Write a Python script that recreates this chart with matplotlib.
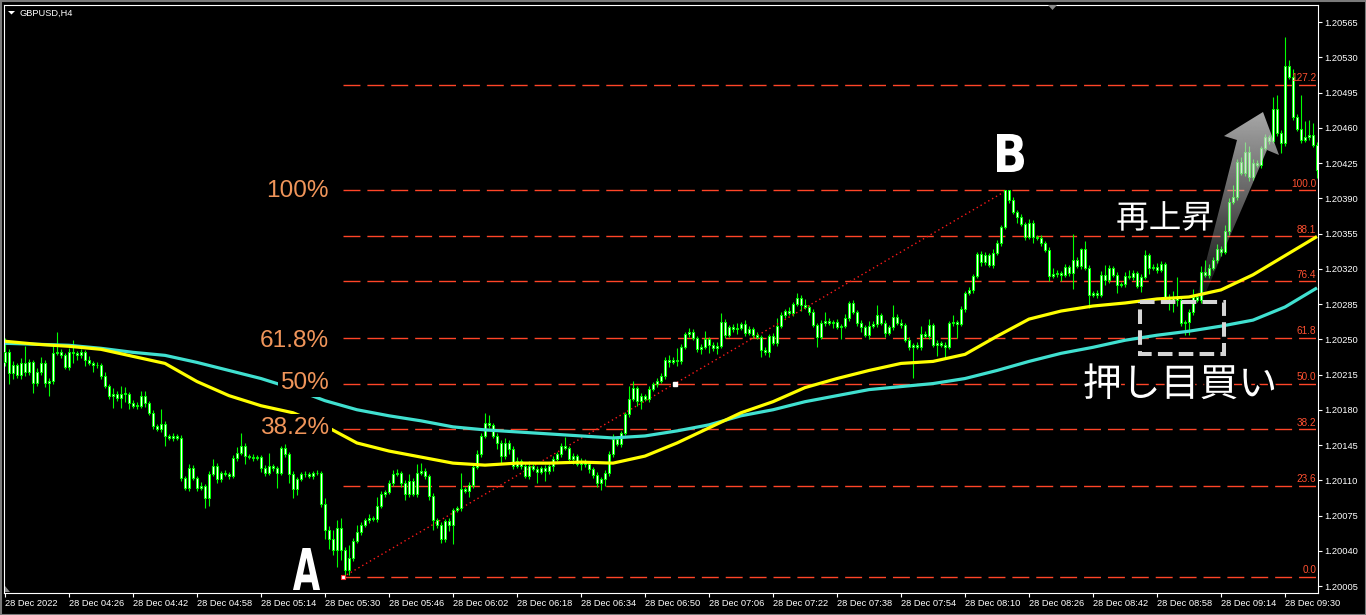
import numpy as np
import matplotlib
matplotlib.use("Agg")
import matplotlib.pyplot as plt
import matplotlib.patheffects as pe
from matplotlib.patches import Rectangle, Polygon, PathPatch
from matplotlib.textpath import TextPath
from matplotlib.font_manager import FontProperties
from matplotlib.transforms import Affine2D, offset_copy

plt.rcParams['font.family'] = ['Liberation Sans', 'DejaVu Sans']
plt.rcParams['lines.scale_dashes'] = False

# ---------------- data: prices in points above 1.20000 ----------------
BASE = 1.2
first_open = 227
close_pts = [
    237, 216, 224, 215, 226, 217, 227, 207, 217, 226, 207, 209, 236, 237, 234, 222, 237, 236, 234, 237,
    229, 226, 224, 224, 214, 204, 194, 196, 192, 196, 196, 187, 184, 184, 194, 187, 177, 164, 161, 166,
    154, 152, 154, 152, 112, 102, 122, 112, 102, 104, 92, 116, 124, 111, 117, 116, 114, 132, 137, 144,
    134, 133, 132, 133, 122, 117, 124, 122, 117, 142, 136, 116, 101, 111, 116, 116, 114, 117, 117, 86,
    61, 52, 41, 63, 41, 21, 33, 50, 59, 66, 71, 73, 72, 84, 96, 98, 107, 116, 117, 107,
    96, 109, 96, 117, 119, 114, 94, 71, 66, 52, 70, 66, 80, 82, 101, 99, 105, 123, 136, 154,
    167, 165, 154, 147, 134, 147, 141, 124, 129, 124, 114, 124, 121, 118, 122, 119, 124, 131, 136, 144,
    142, 131, 134, 126, 129, 126, 121, 115, 107, 111, 117, 136, 151, 146, 157, 176, 191, 202, 189, 194,
    191, 201, 206, 209, 214, 229, 227, 229, 228, 242, 255, 257, 251, 240, 242, 250, 244, 241, 243, 267,
    254, 262, 260, 261, 265, 256, 260, 254, 252, 239, 237, 253, 246, 263, 274, 278, 276, 285, 291, 284,
    282, 277, 264, 252, 266, 268, 266, 267, 262, 263, 271, 286, 277, 266, 262, 254, 263, 265, 274, 266,
    256, 262, 272, 266, 264, 249, 242, 244, 242, 255, 253, 264, 244, 246, 244, 242, 266, 267, 265, 280,
    296, 299, 313, 335, 327, 334, 324, 336, 346, 361, 398, 388, 376, 371, 364, 352, 365, 352, 351, 346,
    339, 313, 315, 316, 314, 322, 316, 329, 323, 340, 321, 294, 296, 294, 314, 309, 321, 314, 304, 305,
    313, 312, 316, 303, 312, 334, 321, 322, 319, 325, 291, 287, 292, 289, 266, 267, 277, 292, 289, 317,
    314, 321, 329, 340, 337, 357, 386, 391, 426, 415, 436, 411, 425, 423, 440, 451, 447, 479, 455, 445,
    521, 510, 471, 459, 448, 451, 453, 443, 418,
]
up_wick = [
    14, 3, 4, 2, 5, 17, 3, 2, 4, 6, 3, 3, 8, 20, 3, 2, 4, 12, 2, 3,
    2, 4, 2, 3, 2, 3, 2, 6, 3, 8, 7, 2, 3, 4, 5, 5, 2, 3, 2, 15,
    3, 2, 3, 2, 3, 2, 4, 3, 2, 4, 2, 3, 7, 3, 2, 3, 2, 3, 6, 13,
    3, 2, 3, 2, 2, 3, 13, 2, 2, 2, 4, 2, 3, 2, 2, 3, 2, 2, 3, 2,
    6, 4, 9, 8, 10, 3, 13, 3, 7, 3, 2, 3, 2, 9, 3, 2, 3, 4, 4, 2,
    3, 7, 3, 9, 8, 3, 2, 3, 2, 3, 2, 3, 2, 2, 16, 2, 3, 2, 4, 3,
    10, 8, 2, 3, 3, 5, 3, 3, 4, 2, 3, 5, 2, 3, 2, 3, 2, 3, 2, 3,
    9, 2, 3, 2, 3, 2, 3, 2, 3, 2, 3, 3, 5, 3, 2, 2, 13, 7, 2, 3,
    2, 3, 2, 3, 2, 3, 5, 3, 12, 3, 2, 4, 3, 2, 3, 8, 2, 3, 4, 9,
    3, 2, 3, 5, 2, 4, 3, 2, 3, 2, 3, 2, 3, 8, 3, 2, 4, 2, 5, 3,
    6, 2, 3, 2, 3, 9, 3, 2, 3, 2, 4, 2, 3, 2, 3, 2, 5, 3, 10, 2,
    3, 2, 12, 3, 4, 2, 3, 2, 3, 8, 3, 6, 2, 3, 2, 3, 2, 7, 2, 3,
    2, 3, 2, 2, 3, 3, 2, 4, 3, 2, 0, 0, 3, 2, 3, 2, 4, 3, 2, 3,
    2, 3, 6, 3, 2, 3, 2, 26, 3, 1, 8, 3, 2, 3, 4, 10, 3, 2, 3, 2,
    4, 6, 3, 2, 3, 5, 2, 3, 4, 3, 2, 4, 6, 20, 3, 2, 3, 8, 3, 6,
    12, 4, 3, 5, 3, 6, 4, 12, 3, 5, 10, 6, 4, 3, 2, 3, 2, 12, 14, 3,
    29, 6, 8, 3, 34, 16, 15, 12, 3,
]
down_wick = [
    4, 10, 5, 3, 4, 3, 2, 10, 3, 2, 4, 13, 3, 2, 3, 2, 3, 10, 5, 3,
    6, 2, 7, 3, 3, 2, 3, 12, 3, 10, 8, 6, 2, 3, 2, 4, 2, 3, 2, 3,
    10, 2, 3, 2, 3, 2, 3, 2, 3, 2, 10, 8, 2, 4, 3, 2, 3, 2, 3, 2,
    8, 2, 3, 2, 4, 3, 2, 3, 15, 2, 3, 9, 9, 6, 2, 3, 2, 3, 2, 3,
    9, 10, 5, 17, 10, 7, 5, 3, 2, 3, 2, 3, 2, 3, 2, 3, 2, 3, 2, 4,
    6, 3, 2, 3, 2, 3, 4, 10, 3, 4, 3, 6, 19, 2, 3, 2, 6, 3, 2, 3,
    2, 3, 2, 6, 8, 3, 5, 3, 2, 3, 2, 3, 2, 11, 2, 10, 3, 5, 2, 3,
    2, 3, 5, 2, 6, 3, 4, 3, 4, 7, 7, 3, 3, 2, 3, 2, 3, 2, 5, 8,
    2, 3, 2, 3, 2, 3, 5, 2, 5, 3, 2, 3, 2, 3, 5, 2, 8, 3, 6, 2,
    3, 2, 3, 5, 2, 3, 2, 3, 2, 7, 3, 5, 2, 3, 2, 3, 2, 3, 2, 6,
    2, 3, 2, 10, 2, 3, 2, 5, 2, 12, 2, 3, 2, 3, 5, 2, 4, 2, 3, 2,
    4, 2, 3, 2, 3, 2, 3, 30, 2, 3, 2, 3, 2, 11, 2, 11, 2, 3, 14, 2,
    3, 2, 3, 2, 4, 3, 2, 3, 2, 3, 2, 3, 2, 6, 2, 3, 2, 6, 2, 3,
    2, 5, 2, 3, 6, 2, 3, 16, 2, 3, 2, 13, 2, 3, 2, 5, 3, 2, 8, 2,
    3, 2, 3, 2, 6, 2, 6, 2, 3, 2, 3, 8, 10, 6, 3, 12, 13, 3, 2, 3,
    2, 3, 2, 3, 4, 2, 3, 2, 3, 2, 3, 4, 3, 2, 3, 2, 3, 2, 3, 10,
    3, 2, 3, 2, 3, 2, 3, 2, 8,
]

# moving averages, one value every 8 candles
ma_step = 8
ma_fast = [248, 245, 243, 240, 233, 226, 208, 194, 184, 177, 164, 147, 139, 133, 127, 125, 127, 127, 128, 127,
           134, 147, 162, 177, 188, 202, 211, 219, 226, 228, 235, 253, 270, 278, 283, 286, 290, 292, 299, 314,
           333, 352]
ma_slow = [246, 245, 244, 241, 237, 234, 227, 219, 211, 201, 189, 180, 174, 169, 163, 160, 158, 156, 154, 152,
           154, 159, 165, 174, 180, 188, 194, 200, 203, 206, 211, 219, 228, 236, 242, 249, 254, 258, 263, 269,
           282, 301]

# fibonacci from A to B
fib_a, fib_b = 1.20014, 1.20398
fib_a_pos, fib_b_pos = 84.5, 250.5
fib_levels = [0.0, 23.6, 38.2, 50.0, 61.8, 76.4, 88.1, 100.0, 127.2]

price_ticks = [1.20005, 1.20040, 1.20075, 1.20110, 1.20145, 1.20180, 1.20215, 1.20250, 1.20285,
               1.20320, 1.20355, 1.20390, 1.20425, 1.20460, 1.20495, 1.20530, 1.20565]
time_ticks = list(range(0, 321, 16))
time_labels = ['28 Dec 2022', '28 Dec 04:26', '28 Dec 04:42', '28 Dec 04:58', '28 Dec 05:14',
               '28 Dec 05:30', '28 Dec 05:46', '28 Dec 06:02', '28 Dec 06:18', '28 Dec 06:34',
               '28 Dec 06:50', '28 Dec 07:06', '28 Dec 07:22', '28 Dec 07:38', '28 Dec 07:54',
               '28 Dec 08:10', '28 Dec 08:26', '28 Dec 08:42', '28 Dec 08:58', '28 Dec 09:14',
               '28 Dec 09:30']

# ---------------- figure ----------------
W, H = 1366, 615
fig = plt.figure(figsize=(W / 100, H / 100), dpi=100, facecolor='black')
L, R, T, B = 4, 1318, 5, 593
ax = fig.add_axes([L / W, 1 - B / H, (R - L) / W, (B - T) / H])
ax.set_facecolor('black')

c = BASE + np.array(close_pts) / 1e5
o = np.r_[BASE + first_open / 1e5, c[:-1]]
hi = np.maximum(o, c) + np.array(up_wick) / 1e5
lo = np.minimum(o, c) - np.array(down_wick) / 1e5
x = np.arange(len(c))

green = '#00ff00'
ax.vlines(x, lo, hi, color=green, lw=0.8, zorder=2)
body = np.maximum(np.abs(c - o), 0.4e-5)
ax.bar(x, body, bottom=np.minimum(o, c), width=0.6, facecolor='white',
       edgecolor=green, lw=0.75, zorder=3)

ma_x = np.arange(0, len(c), ma_step)
ax.plot(ma_x, BASE + np.array(ma_slow) / 1e5, color='#40e0d0', lw=2.3, zorder=4,
        solid_capstyle='butt')
ax.plot(ma_x, BASE + np.array(ma_fast) / 1e5, color='#ffff00', lw=2.3, zorder=5,
        solid_capstyle='butt')

xmin, xmax = -0.25, 328.25
fib_col = '#ff4528'
lab_tr = offset_copy(ax.transData, fig=fig, y=1.5, units='dots')
for lv in fib_levels:
    p = fib_a + (fib_b - fib_a) * lv / 100
    ax.plot([fib_a_pos, xmax], [p, p], color=fib_col, lw=1.0, dashes=(12.2, 5.0), zorder=1)
    ax.text(xmax - 0.4, p, '%.1f' % lv, color='#ff5030', fontsize=7.2, ha='right',
            va='bottom', transform=lab_tr, zorder=6)

ax.plot([fib_a_pos, fib_b_pos], [fib_a, fib_b], color='#ff1a1a', lw=1.0,
        dashes=(1.0, 2.2), zorder=2)
ax.plot([(fib_a_pos + fib_b_pos) / 2], [(fib_a + fib_b) / 2], 's', ms=3.2,
        mfc='white', mec='white', zorder=6)
ax.plot([fib_a_pos], [fib_a], 's', ms=3.2, mfc='white', mec='#ff3030', mew=0.8, zorder=6)

ax.set_xlim(xmin, xmax)
ax.set_ylim(BASE - 1.95e-5, BASE + 581.88e-5)

for s in ax.spines.values():
    s.set_color('white')
    s.set_linewidth(0.8)
ax.yaxis.tick_right()
ax.set_yticks(price_ticks)
ax.set_yticklabels(['%.5f' % p for p in price_ticks])
ax.set_xticks(time_ticks)
ax.set_xticklabels(time_labels)
ax.tick_params(colors='white', length=3, width=0.8, labelsize=6.7, pad=1.5)
for lbl in ax.get_xticklabels():
    lbl.set_ha('left')

# ---------------- overlay for annotations (pixel coords) ----------------
ov = fig.add_axes([0, 0, 1, 1])
ov.set_zorder(5)
ov.patch.set_alpha(0)
ov.axis('off')

# gradient arrow
arrow = Polygon([(1197, 297), (1237, 140), (1224, 136), (1263, 112), (1279, 155),
                 (1267, 150), (1203, 299)], closed=True, fc='none', ec='none')
ov.add_patch(arrow)
grad = np.zeros((256, 1, 4))
grad[..., :3] = 0.8
grad[:, 0, 3] = np.linspace(0.85, 0.05, 256)
im = ov.imshow(grad, extent=(1190, 1285, 305, 105), origin='upper', aspect='auto',
               interpolation='bilinear', zorder=2)
im.set_clip_path(arrow)

# dashed box
ov.add_patch(Rectangle((1140, 302), 84, 52, fill=False, ec='#d6d6d6', lw=2.9,
                       linestyle=(0, (10.5, 4.5)), zorder=3))

pct_col = '#f0955a'
for txt, xr, yb in [('100%', 329, 197), ('61.8%', 329, 347), ('50%', 329, 389), ('38.2%', 329, 434)]:
    ov.text(xr, yb, txt, ha='right', va='baseline', fontsize=17.6, color=pct_col,
            bbox=dict(fc='black', ec='none', pad=2.0), zorder=4)

def block_letter(ch, x0, x1, y0, y1):
    tp = TextPath((0, 0), ch, size=100, prop=FontProperties(family='DejaVu Sans', weight='bold'))
    bb = tp.get_extents()
    tr = Affine2D().translate(-bb.x0, -bb.y0).scale((x1 - x0) / bb.width, -(y1 - y0) / bb.height)
    tr = tr.translate(x0, y1)
    ov.add_patch(PathPatch(tr.transform_path(tp), fc='white', ec='none', zorder=6))

block_letter('A', 293, 320, 548, 590)
block_letter('B', 997, 1024, 134, 172)

stroke = [pe.withStroke(linewidth=3, foreground='black')]
ov.text(1165, 219, '再上昇', ha='center', va='center', fontsize=23.5, color='white',
        family=['Noto Sans CJK JP', 'DejaVu Sans'], path_effects=stroke, zorder=6)
ov.text(1180, 385, '押し目買い', ha='center', va='center', fontsize=28, color='white',
        family=['Noto Sans CJK JP', 'DejaVu Sans'], path_effects=stroke, zorder=6)

# chart title and small markers
ov.add_patch(Polygon([(8, 11), (15, 11), (11.5, 14.5)], closed=True, fc='white', ec='none'))
ov.text(20, 13, 'GBPUSD,H4', color='white', fontsize=6.7, va='center', ha='left')
ov.add_patch(Polygon([(1048, 5), (1057, 5), (1052.5, 10)], closed=True, fc='#8a8a8a', ec='none'))
ov.add_patch(Polygon([(5, 586), (5, 592), (10, 592)], closed=True, fc='#8a8a8a', ec='none'))
ov.add_patch(Rectangle((0.5, 0.5), W - 1, H - 1, fill=False, ec='#7a7a7a', lw=1.5))

ov.set_xlim(0, W)
ov.set_ylim(H, 0)

fig.savefig('out.png', dpi=100, facecolor='black')
